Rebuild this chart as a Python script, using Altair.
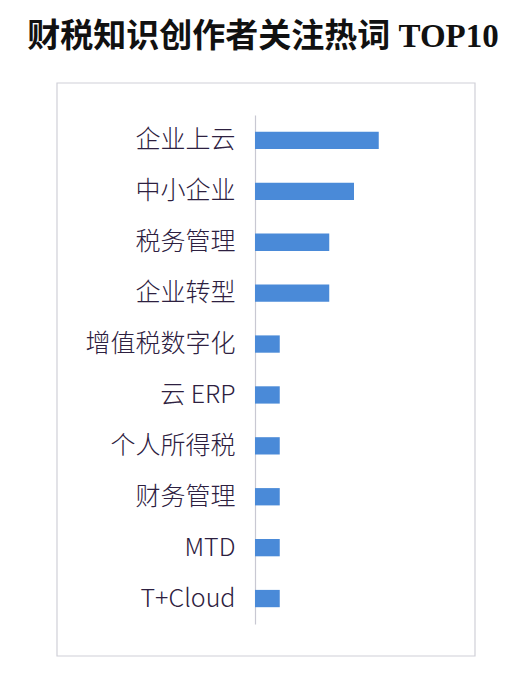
import altair as alt
import pandas as pd

terms = ["企业上云", "中小企业", "税务管理", "企业转型", "增值税数字化",
         "云 ERP", "个人所得税", "财务管理", "MTD", "T+Cloud"]
counts = [5, 4, 3, 3, 1, 1, 1, 1, 1, 1]

df = pd.DataFrame({"term": terms, "count": counts})

bars = alt.Chart(df).mark_bar(color="#4a8ad8").encode(
    x=alt.X("count:Q", axis=None, scale=alt.Scale(domain=[0, 8])),
    y=alt.Y("term:N", sort=None, title=None,
            scale=alt.Scale(paddingInner=0.66, paddingOuter=0.33),
            axis=alt.Axis(ticks=False, tickSize=0, labelPadding=20,
                          labelFontSize=25, labelFont="Noto Sans CJK SC",
                          labelFontWeight=300,
                          labelColor="#2d2040", labelLimit=400,
                          domainColor="#c8c8d2", domainWidth=1.2)),
)

frame = alt.Chart(pd.DataFrame({"a": [0]})).mark_rect(
    fill=None, stroke="#d0d0d8", strokeWidth=1.2
).encode(
    x=alt.value(-198), x2=alt.value(220),
    y=alt.value(-32), y2=alt.value(541),
)

chart = alt.layer(frame, bars).properties(
    width=198, height=509,
    title=alt.TitleParams(
        "财税知识创作者关注热词 TOP10",
        font="Liberation Serif, Noto Sans CJK SC", fontSize=33, fontWeight="bold",
        color="#111111", anchor="middle", dx=-91, offset=12, baseline="middle",
    ),
    autosize=alt.AutoSizeParams(type="none"),
    padding={"left": 247, "top": 107, "right": 71, "bottom": 46},
    background="#ffffff",
).configure_view(stroke=None)

chart.save("out.html", embed_options={"renderer": "svg", "actions": False})
